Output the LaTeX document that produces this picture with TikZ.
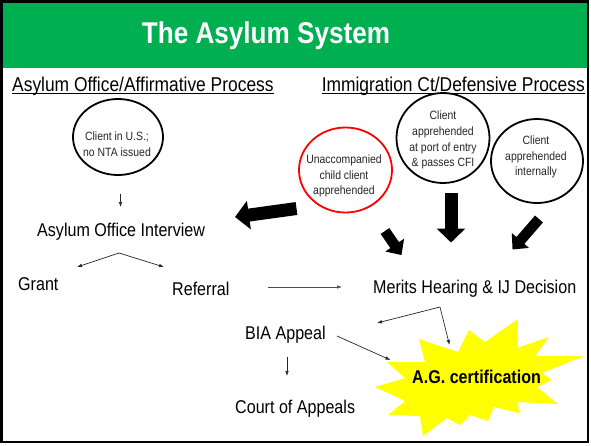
\documentclass[tikz,border=0pt]{standalone}
\usepackage{fontspec}
\setmainfont{Liberation Sans}[FakeStretch=0.87]
\usetikzlibrary{arrows.meta,shapes.geometric}
\definecolor{bannergreen}{HTML}{00B050}
\definecolor{circred}{HTML}{FF0000}
\definecolor{staryellow}{HTML}{FFFF00}
\begin{document}
\begin{tikzpicture}[x=1pt,y=-1pt,
  body/.style={font=\fontsize{18.5}{22}\selectfont, inner sep=0pt, anchor=base west},
  hdr/.style={font=\fontsize{20}{24}\selectfont, inner sep=0pt},
  bubble/.style={ellipse, draw=black, line width=1.8pt, inner sep=0pt},
  bubbletext/.style={font=\fontsize{12}{15.8}\selectfont, align=center, inner sep=0pt, text=black!85},
  thin/.style={-{Latex[length=5pt,width=3.6pt]}, line width=0.7pt, draw=black!85},
  bigarrow/.style={line width=13pt, -{Triangle[width=28pt,length=14pt]}},
  midarrow/.style={line width=10.5pt, -{Triangle[width=22pt,length=12pt]}}
]
\useasboundingbox (0,0) rectangle (591,445);
% frame and banner
\fill[white] (0,0) rectangle (591,445);
\fill[bannergreen] (3,3) rectangle (587,68);
\draw[line width=2.5pt] (1.5,1.5) rectangle (588,442);
\node[font=\fontsize{30}{36}\selectfont\bfseries, text=white, anchor=base, inner sep=0pt] (title) at (266,43) {The Asylum System};

% headers
\node[hdr, anchor=base west] (hl) at (12,91) {Asylum Office/Affirmative Process};
\node[hdr, anchor=base east] (hr) at (585,91) {Immigration Ct/Defensive Process};
\draw[line width=1.3pt] ([yshift=-2.5pt]hl.base west) -- ([yshift=-2.5pt]hl.base east);
\draw[line width=1.3pt] ([yshift=-2.5pt]hr.base west) -- ([yshift=-2.5pt]hr.base east);

% circles
\node[bubble, minimum width=90pt, minimum height=76pt] (c1) at (118,137) {};
\node[bubbletext] (c1t) at (117,144) {Client in U.S.;\\no NTA issued};
\node[bubble, draw=circred, minimum width=93pt, minimum height=85pt] (cr) at (345.5,170) {};
\node[bubbletext] (crt) at (344,176) {Unaccompanied\\child client\\apprehended};
\node[bubble, minimum width=93pt, minimum height=90pt] (cp) at (443,138) {};
\node[bubbletext] (cpt) at (443,140) {Client\\apprehended\\at port of entry\\\& passes CFI};
\node[bubble, minimum width=92pt, minimum height=84pt] (ci) at (537,161) {};
\node[bubbletext] (cit) at (536,157) {Client\\apprehended\\internally};

% body texts
\node[body] (interview) at (37,236) {Asylum Office Interview};
\node[body] (grant) at (18,290) {Grant};
\node[body] (referral) at (172,295) {Referral};
\node[body] (merits) at (373,293) {Merits Hearing \& IJ Decision};
\node[body] (bia) at (245,339) {BIA Appeal};
\node[body] (court) at (235,413) {Court of Appeals};

% starburst
\fill[staryellow] (419,339) -- (458,352) -- (469,330) -- (485,342) -- (518,319) -- (517,348)
  -- (549,337) -- (535,356) -- (584,356) -- (542,373) -- (552,380) -- (537,387)
  -- (558,404) -- (518,402) -- (519,413) -- (494,407) -- (488,421) -- (470,415)
  -- (460,425) -- (447,418) -- (423,436) -- (420,416) -- (388,415) -- (405,401)
  -- (375,387) -- (405,378) -- (387,362) -- (425,362) -- cycle;
\node[font=\fontsize{18.5}{22}\selectfont\bfseries, inner sep=0pt, anchor=base west] (ag) at (412,383) {A.G. certification};

% coordinates for connector ends
\coordinate (c1out) at (120.5,194);
\coordinate (ivin) at (120.5,207);
\coordinate (ivsplit) at (119,253);
\coordinate (grantin) at (77,267);
\coordinate (refin) at (164,267);
\coordinate (refout) at (268,287);
\coordinate (meritsin) at (342,287);
\coordinate (msplit) at (440,307);
\coordinate (biain) at (377,323);
\coordinate (agin1) at (449.5,345);
\coordinate (biaout) at (337,336);
\coordinate (agin2) at (390.5,360);
\coordinate (biadown) at (287,357);
\coordinate (courtin) at (287,376);
% big arrow ends
\coordinate (crtail) at (296.5,208.5);
\coordinate (crtip) at (235,217);
\coordinate (crtail2) at (385,231);
\coordinate (crtip2) at (401.5,255);
\coordinate (cptail) at (451,193);
\coordinate (cptip) at (451,242.5);
\coordinate (citail) at (539,219);
\coordinate (citip) at (512.5,249.5);

% thin connectors
\draw[thin] (c1out) -- (ivin);
\draw[thin] (ivsplit) -- (grantin);
\draw[thin] (ivsplit) -- (refin);
\draw[thin, draw=black!70] (refout) -- (meritsin);
\draw[thin] (msplit) -- (biain);
\draw[thin] (msplit) -- (agin1);
\draw[thin] (biaout) -- (agin2);
\draw[thin] (biadown) -- (courtin);

% big block arrows
\draw[bigarrow] (crtail) -- (crtip);
\draw[midarrow] (crtail2) -- (crtip2);
\draw[bigarrow] (cptail) -- (cptip);
\draw[midarrow] (citail) -- (citip);
\end{tikzpicture}
\end{document}
